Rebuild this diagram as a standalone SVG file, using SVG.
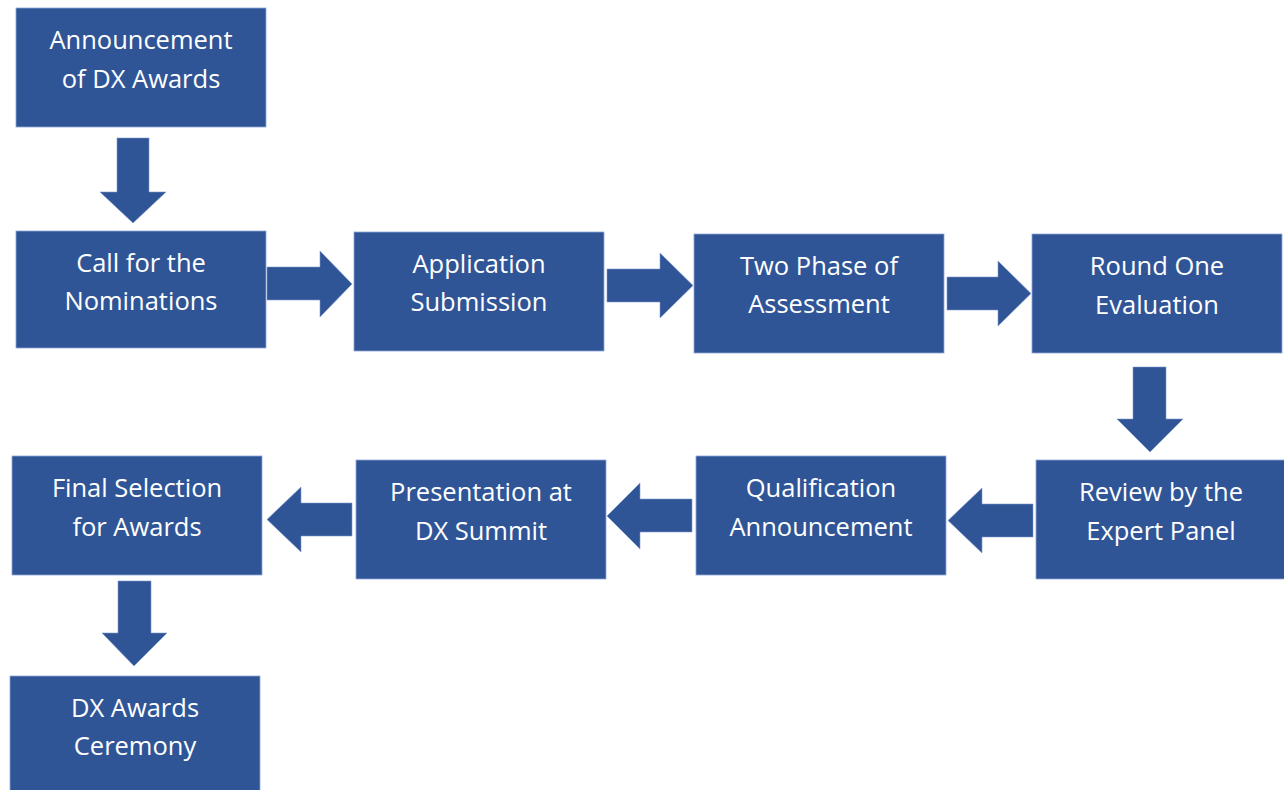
<svg xmlns="http://www.w3.org/2000/svg" width="1284" height="790" viewBox="0 0 1284 790">
<style>
.box{fill:#2F5597;stroke:#8EA6D6;stroke-width:0.8}
.arr{fill:#2F5597;stroke:#7F98CC;stroke-width:0.6}
.t{font-family:"Open Sans","Liberation Sans",sans-serif;font-size:25.5px;fill:#FFFFFF;text-anchor:middle}
</style>
<rect width="1284" height="790" fill="#FFFFFF"/>
<g id="connectors">
<polygon class="arr" points="117,138 149,138 149,192 166,192 133,223 100,192 117,192"/>
<polygon class="arr" points="267,267 320,267 320,251 352,284 320,317 320,300 267,300"/>
<polygon class="arr" points="607,269 660,269 660,253 693,285.5 660,318 660,302 607,302"/>
<polygon class="arr" points="947,277 998,277 998,261 1031,293.5 998,326 998,310 947,310"/>
<polygon class="arr" points="1133,367 1166,367 1166,419 1183,419 1150,452 1117,419 1133,419"/>
<polygon class="arr" points="1033,504 982,504 982,488 948,520.5 982,553 982,537 1033,537"/>
<polygon class="arr" points="692,499 640,499 640,483 607,516 640,549 640,532 692,532"/>
<polygon class="arr" points="352,503 301,503 301,487 267,519.5 301,552 301,536 352,536"/>
<polygon class="arr" points="118,581 151,581 151,633 167,633 134,666 102,633 118,633"/>
</g>
<g id="n1"><rect class="box" x="16" y="8" width="250" height="119"/><text class="t" x="141" y="49">Announcement</text><text class="t" x="141" y="88">of DX Awards</text></g>
<g id="n2"><rect class="box" x="16" y="231" width="250" height="117"/><text class="t" x="141" y="272">Call for the</text><text class="t" x="141" y="310">Nominations</text></g>
<g id="n3"><rect class="box" x="354" y="232" width="250" height="119"/><text class="t" x="479" y="273">Application</text><text class="t" x="479" y="311">Submission</text></g>
<g id="n4"><rect class="box" x="694" y="234" width="250" height="119"/><text class="t" x="819" y="275">Two Phase of</text><text class="t" x="819" y="313">Assessment</text></g>
<g id="n5"><rect class="box" x="1032" y="234" width="250" height="119"/><text class="t" x="1157" y="275">Round One</text><text class="t" x="1157" y="314">Evaluation</text></g>
<g id="n6"><rect class="box" x="1036" y="460" width="250" height="119"/><text class="t" x="1161" y="501">Review by the</text><text class="t" x="1161" y="540">Expert Panel</text></g>
<g id="n7"><rect class="box" x="696" y="456" width="250" height="119"/><text class="t" x="821" y="497">Qualification</text><text class="t" x="821" y="536">Announcement</text></g>
<g id="n8"><rect class="box" x="356" y="460" width="250" height="119"/><text class="t" x="481" y="501">Presentation at</text><text class="t" x="481" y="540">DX Summit</text></g>
<g id="n9"><rect class="box" x="12" y="456" width="250" height="119"/><text class="t" x="137" y="497">Final Selection</text><text class="t" x="137" y="536">for Awards</text></g>
<g id="n10"><rect class="box" x="10" y="676" width="250" height="119"/><text class="t" x="135" y="717">DX Awards</text><text class="t" x="135" y="755">Ceremony</text></g>
</svg>
